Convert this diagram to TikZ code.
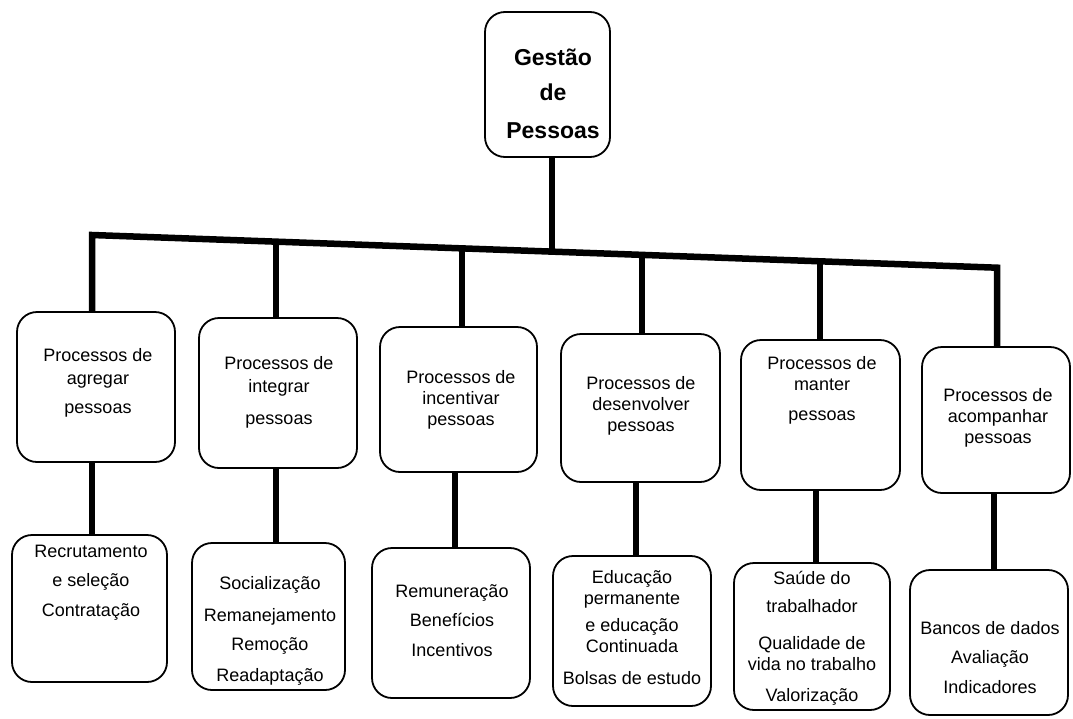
\documentclass[tikz,border=0pt]{standalone}
\usepackage{fontspec}
\setmainfont{Liberation Sans}
\begin{document}
\begin{tikzpicture}[x=1pt,y=-1pt,
  box/.style={draw, rounded corners=20pt, line width=1.8pt, inner sep=0pt},
  txt/.style={align=center, font=\fontsize{18}{21}\selectfont, inner sep=0pt},
  conn/.style={line width=6.5pt, line join=miter},
]
\useasboundingbox (0,0) rectangle (1073,718);
\fill[white] (0,0) rectangle (1073,718);

% top box
\node[box, minimum width=125pt, minimum height=145pt] (top) at (547.5,84.5) {};
\node[align=center, inner sep=0pt, font=\bfseries\fontsize{23}{35}\selectfont] (toptxt) at (553,93.5) {Gestão\\de\\[3pt]Pessoas};

% level 1 boxes
\node[box, minimum width=158pt, minimum height=150pt] (p1) at (96,387) {};
\node[box, minimum width=158pt, minimum height=150pt] (p2) at (278,393) {};
\node[box, minimum width=157pt, minimum height=145pt] (p3) at (458.5,399.5) {};
\node[box, minimum width=159pt, minimum height=148pt] (p4) at (640.5,408) {};
\node[box, minimum width=159pt, minimum height=150pt] (p5) at (820.5,415) {};
\node[box, minimum width=148pt, minimum height=146pt] (p6) at (996,420) {};

\node[txt] (p1t) at (98,383) {Processos de\\[2pt]agregar\\[8pt]pessoas};
\node[txt] (p2t) at (279,392.5) {Processos de\\[2pt]integrar\\[11pt]pessoas};
\node[txt] (p3t) at (461,400) {Processos de\\incentivar\\pessoas};
\node[txt] (p4t) at (641,405.5) {Processos de\\desenvolver\\pessoas};
\node[txt] (p5t) at (822,390.5) {Processos de\\manter\\[9pt]pessoas};
\node[txt] (p6t) at (998,418) {Processos de\\acompanhar\\pessoas};

% level 2 boxes
\node[box, minimum width=155pt, minimum height=147pt] (q1) at (89.5,608.5) {};
\node[box, minimum width=153pt, minimum height=147pt] (q2) at (268.5,616.5) {};
\node[box, minimum width=158pt, minimum height=150pt] (q3) at (451,623) {};
\node[box, minimum width=158pt, minimum height=150pt] (q4) at (632,631) {};
\node[box, minimum width=156pt, minimum height=147pt] (q5) at (812,636.5) {};
\node[box, minimum width=158pt, minimum height=145pt] (q6) at (989,642.5) {};

\node[txt] (q1t) at (91,582.5) {Recrutamento\\[8pt]e seleção\\[9pt]Contratação};
\node[txt] (q2t) at (270,631) {Socialização\\[11pt]Remanejamento\\[8pt]Remoção\\[10pt]Readaptação};
\node[txt] (q3t) at (452,620.5) {Remuneração\\[8pt]Benefícios\\[9pt]Incentivos};
\node[txt] (q4t) at (632,628) {Educação\\permanente\\[6pt]e educação\\Continuada\\[11pt]Bolsas de estudo};
\node[txt] (q5t) at (812,638.5) {Saúde do\\[7pt]trabalhador\\[16pt]Qualidade de\\vida no trabalho\\[10pt]Valorização};
\node[txt] (q6t) at (990,657.5) {Bancos de dados\\[8pt]Avaliação\\[9pt]Indicadores};

% bar joints
\coordinate (j1) at (92,235);
\coordinate (j2) at (276,241.6);
\coordinate (j3) at (462,248.4);
\coordinate (jt) at (552,251.6);
\coordinate (j4) at (642,254.9);
\coordinate (j5) at (820,261.3);
\coordinate (j6) at (997,267.7);

\draw[conn] (j1 |- p1.north) -- (j1) -- (j6) -- (j6 |- p6.north);
\draw[conn] (jt |- top.south) -- (jt);
\draw[conn] (j2) -- (j2 |- p2.north);
\draw[conn] (j3) -- (j3 |- p3.north);
\draw[conn] (j4) -- (j4 |- p4.north);
\draw[conn] (j5) -- (j5 |- p5.north);

% level 1 to level 2
\coordinate (k1) at (92,500);
\coordinate (k2) at (276,500);
\coordinate (k3) at (455,500);
\coordinate (k4) at (636,500);
\coordinate (k5) at (816,500);
\coordinate (k6) at (994,500);
\draw[conn] (k1 |- p1.south) -- (k1 |- q1.north);
\draw[conn] (k2 |- p2.south) -- (k2 |- q2.north);
\draw[conn] (k3 |- p3.south) -- (k3 |- q3.north);
\draw[conn] (k4 |- p4.south) -- (k4 |- q4.north);
\draw[conn] (k5 |- p5.south) -- (k5 |- q5.north);
\draw[conn] (k6 |- p6.south) -- (k6 |- q6.north);
\end{tikzpicture}
\end{document}
